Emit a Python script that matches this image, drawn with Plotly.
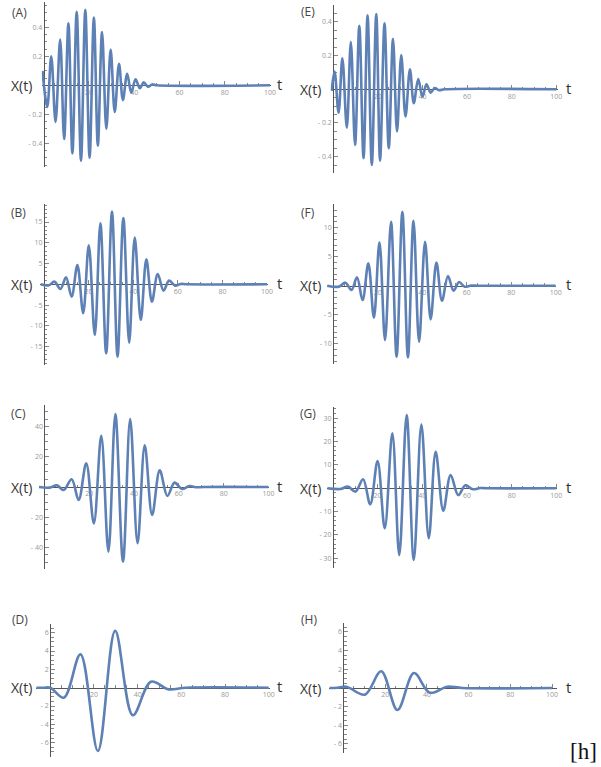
import plotly.graph_objects as go

W, H = 601, 767

# ---------------- data (extrema) ----------------
A_t = [-0.5, 1.6, 3.36, 5.26, 7.3, 9.05, 10.95, 12.7, 14.6, 16.5, 18.4, 20.3, 22.2, 23.95,
       25.8, 27.7, 29.6, 31.4, 33.3, 35.0, 36.9, 38.7, 40.6, 42.5, 44.2, 46.1, 47.9, 50, 100]
A_x = [0.1, -0.149, 0.2, -0.253, 0.316, -0.37, 0.428, -0.47, 0.507, -0.52, 0.52, -0.50, 0.467, -0.416,
       0.367, -0.30, 0.246, -0.184, 0.149, -0.102, 0.079, -0.051, 0.042, -0.02, 0.02, -0.01, 0.006, 0, 0]

E_t = [-0.7, 0.6, 2.4, 4.1, 6.1, 7.9, 9.8, 11.7, 13.6, 15.4, 17.3, 19.3, 21.0, 23.0, 24.9, 26.8,
       28.6, 30.5, 32.4, 34.4, 36.1, 38.1, 40.0, 41.8, 43.7, 45.5, 47.4, 50, 100]
E_x = [-0.01, 0.105, -0.139, 0.184, -0.228, 0.281, -0.331, 0.378, -0.41, 0.44, -0.45, 0.448, -0.424,
       0.392, -0.35, 0.30, -0.251, 0.204, -0.162, 0.119, -0.083, 0.061, -0.044, 0.03, -0.02, 0.008,
       -0.005, 0, 0]

B_t = [-1.5, 2.2, 4.7, 7.4, 9.9, 12.4, 15.0, 17.6, 20.1, 22.8, 25.3, 27.9, 30.5, 33.0, 35.6, 38.2,
       40.7, 43.4, 45.9, 48.4, 51.0, 53.6, 56.1, 58.8, 61.3, 64, 100]
B_x = [0, -0.25, 0.64, -1.12, 1.69, -2.97, 4.65, -6.98, 9.39, -12.2, 14.69, -16.61, 17.5, -17.42,
       15.97, -14.04, 11.24, -8.59, 6.02, -4.17, 2.49, -1.52, 0.88, -0.32, 0.08, 0, 0]

F_t = [-2.7, 2.5, 5.5, 8.2, 10.7, 13.2, 15.8, 18.3, 20.8, 23.3, 26.0, 28.5, 31.1, 33.6, 36.1, 38.6,
       41.3, 43.8, 46.4, 48.9, 51.6, 54.1, 56.6, 59.1, 62, 65, 100]
F_x = [0, -0.17, 0.52, -0.75, 1.44, -2.47, 3.85, -5.52, 7.47, -9.37, 11.03, -12.24, 12.76, -12.36,
       11.21, -9.66, 7.59, -5.8, 3.97, -2.59, 1.67, -0.86, 0.63, -0.17, 0.03, 0, 0]

C_t = [-2.4, 2.4, 5.6, 8.6, 12.2, 15.3, 18.7, 22.1, 25.4, 28.6, 31.7, 35.1, 38.3, 41.6, 44.8, 48.1,
       51.5, 54.9, 58.1, 61.4, 64.7, 68.0, 71, 100]
C_x = [0, -0.4, 1.1, -2.0, 5.1, -8.6, 15.7, -24.1, 34.0, -42.9, 48.4, -49.5, 45.1, -37.3, 27.6, -18.6,
       11.0, -6.0, 2.9, -1.3, 0.6, -0.2, 0, 0]

G_t = [-2.5, 3.4, 6.7, 10.1, 13.5, 16.7, 20.0, 23.2, 26.6, 29.7, 33.0, 36.2, 39.6, 42.9, 46.0, 49.4,
       52.7, 56.1, 59.3, 62.6, 66.0, 69, 100]
G_x = [0, -0.3, 0.7, -1.4, 3.9, -6.9, 11.7, -17.1, 23.6, -28.6, 31.4, -30.7, 27.3, -21.4, 15.6, -9.6,
       5.7, -2.9, 1.3, -0.4, 0.1, 0, 0]

D_t = [-6.4, -3, 0, 6.2, 13.8, 21.8, 29.7, 37.8, 46.1, 54.2, 62, 100]
D_x = [0, 0, 0, -1.09, 3.64, -6.9, 6.2, -3.0, 0.65, -0.18, 0, 0]

H_t = [-6.7, -3, 1.4, 10.3, 18.1, 25.9, 33.8, 41.4, 49.8, 57, 100]
H_x = [0, 0.02, 0.14, -0.71, 1.79, -2.36, 1.6, -0.5, 0.14, 0, 0]

X_TICKS = [20, 40, 60, 80, 100]
Y_TICKS = {
    "A": [-0.4, -0.2, 0.2, 0.4], "E": [-0.4, -0.2, 0.2, 0.4],
    "B": [-15, -10, -5, 5, 10, 15], "F": [-10, -5, 5, 10],
    "C": [-40, -20, 20, 40], "G": [-30, -20, -10, 10, 20, 30],
    "D": [-6, -4, -2, 2, 4, 6], "H": [-6, -4, -2, 2, 4, 6],
}
Y_MINOR = {"A": 0.05, "E": 0.05, "B": 1, "F": 1, "C": 5, "G": 2, "D": 0.5, "H": 0.5}

SERIES = {"A": (A_t, A_x), "B": (B_t, B_x), "C": (C_t, C_x), "D": (D_t, D_x),
          "E": (E_t, E_x), "F": (F_t, F_x), "G": (G_t, G_x), "H": (H_t, H_x)}

# ---------------- geometry (pixels) ----------------
GEOM = {
    "A": dict(px0=44.0, px100=272.3, py0=85.3, ref=(0.4, 27.3), xr=(-0.8, 100.3), yr=(-0.565, 0.575)),
    "E": dict(px0=336.0, px100=561.0, py0=89.3, ref=(0.4, 22.0), xr=(-1.2, 100.8), yr=(-0.5, 0.5)),
    "B": dict(px0=44.3, px100=269.3, py0=284.3, ref=(15, 222.0), xr=(-1.6, 100.3), yr=(-19.4, 19.3)),
    "F": dict(px0=336.0, px100=560.3, py0=285.7, ref=(10, 227.7), xr=(-2.8, 100.3), yr=(-13.5, 14.1)),
    "C": dict(px0=44.7, px100=270.7, py0=487.0, ref=(40, 426.7), xr=(-2.5, 100.3), yr=(-54.4, 54.4)),
    "G": dict(px0=335.7, px100=561.0, py0=488.3, ref=(30, 418.3), xr=(-2.6, 100.5), yr=(-34.3, 34.7)),
    "D": dict(px0=50.7, px100=271.0, py0=687.7, ref=(6, 632.7), xr=(-6.5, 100.4), yr=(-7.6, 6.95)),
    "H": dict(px0=346.3, px100=556.7, py0=688.0, ref=(6, 632.0), xr=(-6.8, 102.3), yr=(-7.0, 7.0)),
}
LABEL_POS = {"A": (20, 13), "E": (311, 12), "B": (19, 212), "F": (311, 212),
             "C": (19, 414), "G": (311, 414), "D": (20, 619), "H": (312, 619)}

LINE_COLOR = "#5e81b5"
AXIS_COLOR = "#555555"
TICK_COLOR = "#888888"
FONT = "Open Sans"


def fmt(v):
    s = ("%g" % abs(v))
    return ("- " + s) if v < 0 else s


fig = go.Figure()
layout = dict(width=W, height=H, autosize=False, margin=dict(l=0, r=0, t=0, b=0),
              paper_bgcolor="white", plot_bgcolor="rgba(0,0,0,0)", showlegend=False)
annotations = []

for i, key in enumerate(["A", "B", "C", "D", "E", "F", "G", "H"]):
    g = GEOM[key]
    sx = (g["px100"] - g["px0"]) / 100.0
    sy = (g["py0"] - g["ref"][1]) / g["ref"][0]
    x_left = g["px0"] + g["xr"][0] * sx
    x_right = g["px0"] + g["xr"][1] * sx
    y_top = g["py0"] - g["yr"][1] * sy
    y_bot = g["py0"] - g["yr"][0] * sy
    n = "" if i == 0 else str(i + 1)
    xa, ya = "xaxis" + n, "yaxis" + n
    t, x = SERIES[key]
    fig.add_trace(go.Scatter(x=t, y=x, mode="lines",
                             line=dict(color=LINE_COLOR, width=2.6, shape="spline", smoothing=1.0),
                             xaxis="x" + n, yaxis="y" + n, hoverinfo="skip"))
    layout[xa] = dict(domain=[x_left / W, x_right / W], range=list(g["xr"]), anchor="free",
                      position=1 - g["py0"] / H, showgrid=False, zeroline=False,
                      showline=True, linecolor=AXIS_COLOR, linewidth=1, layer="below traces",
                      tickmode="array", tickvals=X_TICKS, ticktext=[str(v) for v in X_TICKS],
                      ticks="inside", ticklen=4, tickwidth=1, tickcolor=TICK_COLOR,
                      tickfont=dict(family=FONT, size=7, color="#999999"),
                      minor=dict(tickmode="array", tickvals=[v for v in range(5, 101, 5) if v % 20],
                                 ticks="inside", ticklen=2.5, tickwidth=1, tickcolor=TICK_COLOR),
                      fixedrange=True)
    yt = Y_TICKS[key]
    step = Y_MINOR[key]
    nmin = int(round(g["yr"][0] / step))
    nmax = int(round(g["yr"][1] / step))
    minor_vals = [k * step for k in range(nmin, nmax + 1) if k != 0]
    layout[ya] = dict(domain=[1 - y_bot / H, 1 - y_top / H], range=list(g["yr"]), anchor="free",
                      position=g["px0"] / W, showgrid=False, zeroline=False,
                      showline=True, linecolor=AXIS_COLOR, linewidth=1, layer="below traces",
                      tickmode="array", tickvals=yt, ticktext=[fmt(v) for v in yt],
                      ticks="inside", ticklen=4, tickwidth=1, tickcolor=TICK_COLOR,
                      tickfont=dict(family=FONT, size=7, color="#999999"),
                      minor=dict(tickmode="array", tickvals=minor_vals,
                                 ticks="inside", ticklen=2.5, tickwidth=1, tickcolor=TICK_COLOR),
                      fixedrange=True)
    left_col = key in "ABCD"
    annotations.append(dict(text="X(t)", xref="paper", yref="paper", showarrow=False,
                            x=(34 if left_col else 326) / W, y=1 - g["py0"] / H,
                            xanchor="right", yanchor="middle",
                            font=dict(family=FONT, size=14, color="#333333")))
    annotations.append(dict(text="t", xref="paper", yref="paper", showarrow=False,
                            x=(277 if left_col else 569) / W, y=1 - (g["py0"] - 1.5) / H,
                            xanchor="left", yanchor="middle",
                            font=dict(family=FONT, size=15, color="#333333")))
    lx, ly = LABEL_POS[key]
    annotations.append(dict(text="(" + key + ")", xref="paper", yref="paper", showarrow=False,
                            x=lx / W, y=1 - ly / H, xanchor="center", yanchor="middle",
                            font=dict(family=FONT, size=12, color="#444444")))

annotations.append(dict(text="[h]", xref="paper", yref="paper", showarrow=False,
                        x=588 / W, y=1 - 751 / H, xanchor="center", yanchor="middle",
                        font=dict(family="Liberation Serif", size=23, color="#111111")))
layout["annotations"] = annotations
fig.update_layout(**layout)
fig.write_html("out.html", config={"displayModeBar": False},
               post_script="document.body.style.margin='0px';document.body.style.overflow='hidden';")
